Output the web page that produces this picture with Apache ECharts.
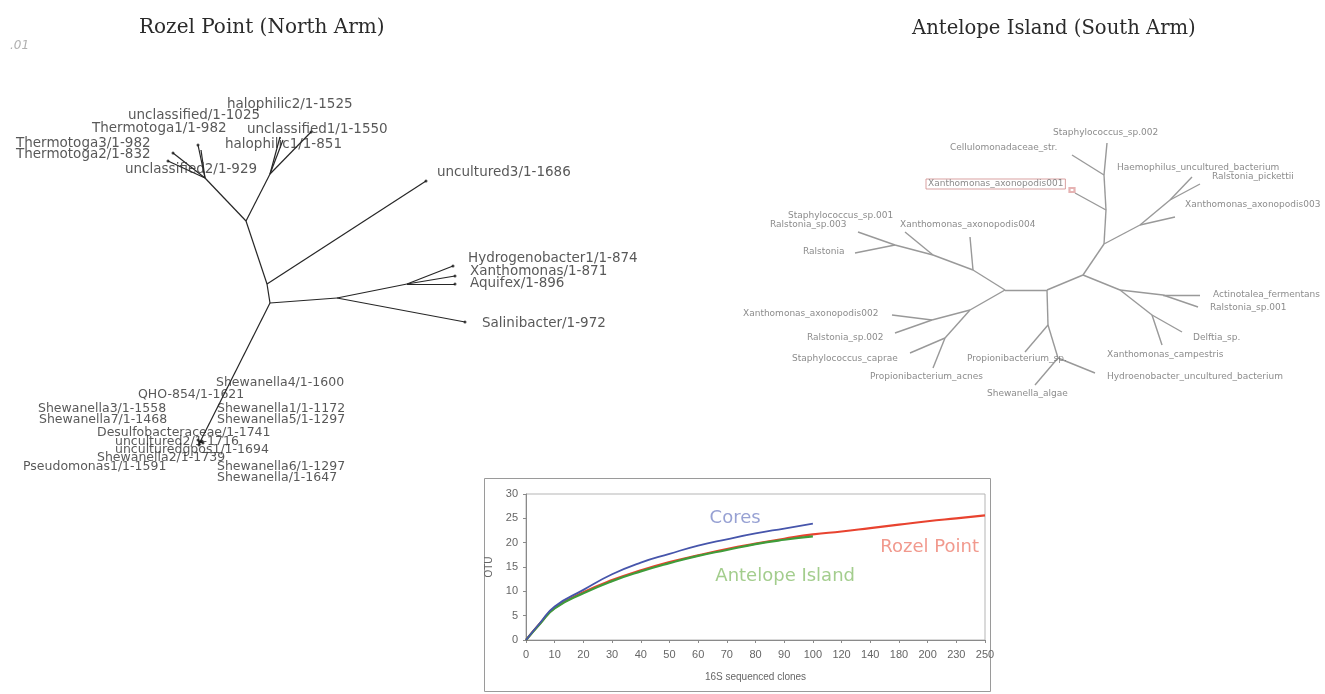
<!DOCTYPE html>
<html>
<head>
<meta charset="utf-8">
<script src="https://cdn.jsdelivr.net/npm/echarts@6/dist/echarts.min.js"></script>
<style>
  html, body { margin: 0; padding: 0; background: #fff; }
  #c { width: 1325px; height: 694px; }
</style>
</head>
<body>
<div id="c"></div>
<script>
// ---------- Rozel Point (North Arm) tree: node layout relative to the root ----------
const northNodes = {
  root: [0, 0], b: [-3, -19], a: [-24, -82], t: [-65, -125],
  t1: [-97, -150], t2: [-102, -142], t3: [-72, -158], t4: [-69, -153],
  h: [0, -129], h1: [10, -166], h2: [41, -171], h3: [13, -163],
  u3: [156, -122], d: [67, -5], e: [137, -19],
  hy: [183, -37], xa: [185, -27], aq: [185, -19], sa: [195, 19],
  s: [-70, 139], s1: [-72, 137], s2: [-67, 140], s3: [-71, 142], s4: [-68, 138]
};
const northEdges = [
  ['root', 'b'], ['b', 'a'], ['a', 't'], ['t', 't1'], ['t', 't2'], ['t', 't3'], ['t', 't4'],
  ['a', 'h'], ['h', 'h1'], ['h', 'h2'], ['h', 'h3'], ['b', 'u3'],
  ['root', 'd'], ['d', 'e'], ['e', 'hy'], ['e', 'xa'], ['e', 'aq'], ['d', 'sa'],
  ['root', 's'], ['s', 's1'], ['s', 's2'], ['s', 's3'], ['s', 's4']
];
const northTips = ['t1', 't2', 't3', 'h2', 'u3', 'hy', 'xa', 'aq', 'sa', 's', 's1', 's2', 's3', 's4'];
const northUpperLabels = [
  ['halophilic2/1-1525', -43, -199],
  ['unclassified/1-1025', -142, -188],
  ['Thermotoga1/1-982', -178, -175],
  ['unclassified1/1-1550', -23, -174],
  ['Thermotoga3/1-982', -254, -160],
  ['halophilic1/1-851', -45, -159],
  ['Thermotoga2/1-832', -254, -149],
  ['unclassified2/1-929', -145, -134],
  ['uncultured3/1-1686', 167, -131],
  ['Hydrogenobacter1/1-874', 198, -45],
  ['Xanthomonas/1-871', 200, -32],
  ['Aquifex/1-896', 200, -20],
  ['Salinibacter/1-972', 212, 20]
];
const northLowerLabels = [
  ['Shewanella4/1-1600', -54, 80],
  ['QHO-854/1-1621', -132, 92],
  ['Shewanella3/1-1558', -232, 106],
  ['Shewanella1/1-1172', -53, 106],
  ['Shewanella7/1-1468', -231, 117],
  ['Shewanella5/1-1297', -53, 117],
  ['Desulfobacteraceae/1-1741', -173, 130],
  ['uncultured2/1-1716', -155, 139],
  ['unculturedgpos1/1-1694', -155, 147],
  ['Shewanella2/1-1739', -173, 155],
  ['Pseudomonas1/1-1591', -247, 164],
  ['Shewanella6/1-1297', -53, 164],
  ['Shewanella/1-1647', -53, 175]
];

// ---------- Antelope Island (South Arm) tree ----------
const southNodes = {
  root: [0, 0], n2: [36, -15], n1: [57, -46], nx1: [59, -80], ncel: [57, -115], top: [60, -147],
  cel: [25, -135], x001: [28, -97],
  nh: [93, -65], nh2: [123, -90], haem: [145, -113], rpick: [153, -106], x003: [128, -73],
  na: [73, 0], nb: [116, 5], act: [153, 5], r001: [151, 17], nc: [105, 25], delf: [135, 42], xcamp: [115, 55],
  np: [1, 35], prop: [-22, 62], nq: [11, 68], hydro: [48, 83], shew: [-12, 95],
  n4: [-42, 0], n5: [-74, -20], xa004: [-77, -53], n6: [-114, -35], st001: [-142, -58],
  n7: [-152, -45], r003: [-189, -58], ralst: [-192, -37],
  n8: [-77, 20], n9: [-115, 30], x002: [-155, 25], r002: [-152, 43],
  n10: [-102, 48], scap: [-137, 63], pacn: [-114, 78]
};
const southEdges = [
  ['root', 'n2'], ['n2', 'n1'], ['n1', 'nx1'], ['nx1', 'ncel'], ['ncel', 'top'], ['ncel', 'cel'], ['nx1', 'x001'],
  ['n1', 'nh'], ['nh', 'nh2'], ['nh2', 'haem'], ['nh2', 'rpick'], ['nh', 'x003'],
  ['n2', 'na'], ['na', 'nb'], ['nb', 'act'], ['nb', 'r001'], ['na', 'nc'], ['nc', 'delf'], ['nc', 'xcamp'],
  ['root', 'np'], ['np', 'prop'], ['np', 'nq'], ['nq', 'hydro'], ['nq', 'shew'],
  ['root', 'n4'], ['n4', 'n5'], ['n5', 'xa004'], ['n5', 'n6'], ['n6', 'st001'], ['n6', 'n7'], ['n7', 'r003'], ['n7', 'ralst'],
  ['n4', 'n8'], ['n8', 'n9'], ['n9', 'x002'], ['n9', 'r002'], ['n8', 'n10'], ['n10', 'scap'], ['n10', 'pacn']
];
const southLabels = [
  ['Staphylococcus_sp.002', 6, -157],
  ['Cellulomonadaceae_str.', -97, -142],
  ['Xanthomonas_axonopodis001', -121, -106],
  ['Haemophilus_uncultured_bacterium', 70, -122],
  ['Ralstonia_pickettii', 165, -113],
  ['Xanthomonas_axonopodis003', 138, -85],
  ['Staphylococcus_sp.001', -259, -74],
  ['Ralstonia_sp.003', -277, -65],
  ['Xanthomonas_axonopodis004', -147, -65],
  ['Ralstonia', -244, -38],
  ['Actinotalea_fermentans', 166, 5],
  ['Ralstonia_sp.001', 163, 18],
  ['Delftia_sp.', 146, 48],
  ['Xanthomonas_campestris', 60, 65],
  ['Hydroenobacter_uncultured_bacterium', 60, 87],
  ['Propionibacterium_sp.', -80, 69],
  ['Shewanella_algae', -60, 104],
  ['Propionibacterium_acnes', -177, 87],
  ['Staphylococcus_caprae', -255, 69],
  ['Ralstonia_sp.002', -240, 48],
  ['Xanthomonas_axonopodis002', -304, 24]
];
const highlightedTaxon = 'Xanthomonas_axonopodis001';
const highlightMark = [25, -100];

// ---------- OTU rarefaction curves ----------
const cloneTicks = ['0', '10', '20', '30', '40', '50', '60', '70', '80', '90', '100', '120', '140', '180', '200', '230', '250'];
const coresClones = [0, 5, 10, 20, 30, 40, 50, 60, 70, 80, 90, 100];
const coresOTU    = [0, 3.6, 6.9, 10.3, 13.5, 15.9, 17.7, 19.4, 20.7, 21.9, 22.9, 23.9];
const antelopeClones = [0, 5, 10, 20, 30, 40, 50, 60, 70, 80, 90, 100];
const antelopeOTU    = [0, 3.4, 6.5, 9.6, 12.1, 14.1, 15.8, 17.3, 18.5, 19.7, 20.6, 21.3];
const rozelClones = [0, 5, 10, 20, 30, 40, 50, 60, 70, 80, 90, 100, 120, 140, 180, 200, 230, 250];
const rozelOTU    = [0, 3.5, 6.6, 9.8, 12.3, 14.3, 16.0, 17.4, 18.7, 19.8, 20.8, 21.7, 22.3, 23.0, 23.7, 24.4, 25.0, 25.6];
const curveNames = ['Cores', 'Rozel Point', 'Antelope Island'];
const curveNameAnchors = [[6.4, 25.1], [12.35, 19.1], [6.6, 13.1]];

// clone count -> position along the evenly spaced category ticks
const tickClones = cloneTicks.map(Number);
function clonePos(c) {
  for (let i = 1; i < tickClones.length; i++) {
    if (c <= tickClones[i]) return i - 1 + (c - tickClones[i - 1]) / (tickClones[i] - tickClones[i - 1]);
  }
  return tickClones.length - 1;
}
const toCurve = (xs, ys) => xs.map((c, i) => [clonePos(c), ys[i]]);

function edgeData(nodes, edges) {
  return edges.map(([p, q]) => ({ coords: [nodes[p], nodes[q]] }));
}
function labelData(list) {
  return list.map(([t, x, y]) => ({ name: t, value: [x, y] }));
}

const treeLabelFont = { fontFamily: 'DejaVu Sans', color: '#2e2e2e' };
const titleFont = { fontFamily: 'DejaVu Serif', fontWeight: 'normal', color: '#2a2a2a' };

const option = {
  animation: false,
  backgroundColor: '#fff',
  title: [
    { text: 'Rozel Point (North Arm)', left: 134, top: 13, textStyle: { ...titleFont, fontSize: 20 } },
    { text: 'Antelope Island (South Arm)', left: 907, top: 14, textStyle: { ...titleFont, fontSize: 19.6 } }
  ],
  graphic: [
    { type: 'text', left: 10, top: 40,
      style: { text: '.01', font: 'italic 12px "DejaVu Sans"', fill: '#b0b0b0' } },
    { type: 'rect', shape: { x: 484.5, y: 478.5, width: 506, height: 213 },
      style: { fill: 'none', stroke: '#9a9a9a', lineWidth: 1 }, z: 0 }
  ],
  grid: [
    { left: 0, top: 90, width: 660, height: 400 },
    { left: 740, top: 110, width: 585, height: 300 },
    { left: 526, top: 494, width: 459, height: 146, show: true, borderColor: '#b5b5b5', borderWidth: 1 }
  ],
  xAxis: [
    { gridIndex: 0, type: 'value', min: -270, max: 390, show: false },
    { gridIndex: 1, type: 'value', min: -307, max: 278, show: false },
    { gridIndex: 2, type: 'value', min: 0, max: 16, interval: 1,
      name: '16S sequenced clones', nameLocation: 'middle', nameGap: 32,
      nameTextStyle: { fontFamily: 'Liberation Sans', fontSize: 10, color: '#666' },
      axisLine: { lineStyle: { color: '#8a8a8a' } },
      axisTick: { show: true, length: 3, lineStyle: { color: '#8a8a8a' } },
      splitLine: { show: false },
      axisLabel: { formatter: v => cloneTicks[v], fontFamily: 'Liberation Sans', fontSize: 11, color: '#666', margin: 9 } }
  ],
  yAxis: [
    { gridIndex: 0, type: 'value', min: -213, max: 187, inverse: true, show: false },
    { gridIndex: 1, type: 'value', min: -180, max: 120, inverse: true, show: false },
    { gridIndex: 2, type: 'value', min: 0, max: 30, interval: 5,
      name: 'OTU', nameLocation: 'middle', nameGap: 32, nameRotate: 90,
      nameTextStyle: { fontFamily: 'Liberation Sans', fontSize: 10, color: '#666' },
      axisLine: { show: true, lineStyle: { color: '#8a8a8a' } },
      axisTick: { show: true, length: 3, lineStyle: { color: '#8a8a8a' } },
      splitLine: { show: false },
      axisLabel: { fontFamily: 'Liberation Sans', fontSize: 11, color: '#666', margin: 8 } }
  ],
  series: [
    // North tree branches, tip dots and leaf labels
    { type: 'lines', coordinateSystem: 'cartesian2d', xAxisIndex: 0, yAxisIndex: 0,
      data: edgeData(northNodes, northEdges),
      lineStyle: { color: '#262626', width: 1.2, opacity: 1 } },
    { type: 'scatter', xAxisIndex: 0, yAxisIndex: 0, symbolSize: 3,
      itemStyle: { color: '#1a1a1a' },
      data: northTips.map(k => northNodes[k]) },
    { type: 'scatter', xAxisIndex: 0, yAxisIndex: 0, symbolSize: 0,
      data: labelData(northUpperLabels),
      label: { show: true, position: 'right', distance: 0, formatter: '{b}', fontSize: 13.5, ...treeLabelFont } },
    { type: 'scatter', xAxisIndex: 0, yAxisIndex: 0, symbolSize: 0,
      data: labelData(northLowerLabels),
      label: { show: true, position: 'right', distance: 0, formatter: '{b}', fontSize: 12.5, ...treeLabelFont } },

    // South tree branches and leaf labels
    { type: 'lines', coordinateSystem: 'cartesian2d', xAxisIndex: 1, yAxisIndex: 1,
      data: edgeData(southNodes, southEdges),
      lineStyle: { color: '#999', width: 1.4, opacity: 1 } },
    { type: 'scatter', xAxisIndex: 1, yAxisIndex: 1, symbolSize: 0,
      data: southLabels.map(([t, x, y]) => {
        const item = { name: t, value: [x, y] };
        if (t === highlightedTaxon) {
          item.label = { borderColor: '#cf8a8a', borderWidth: 1, padding: [1, 2, 0, 2] };
        }
        return item;
      }),
      label: { show: true, position: 'right', distance: 0, formatter: '{b}',
        fontFamily: 'DejaVu Sans', fontSize: 9, color: '#6e6e6e' } },
    { type: 'scatter', xAxisIndex: 1, yAxisIndex: 1, symbol: 'emptyRect', symbolSize: [5, 4],
      itemStyle: { color: '#e0a0a0', borderColor: '#d88', borderWidth: 1 },
      data: [highlightMark] },

    // Rarefaction curves
    { name: 'Rozel Point', type: 'line', xAxisIndex: 2, yAxisIndex: 2, smooth: true, symbol: 'none',
      lineStyle: { color: '#e8432f', width: 2.2 }, data: toCurve(rozelClones, rozelOTU) },
    { name: 'Antelope Island', type: 'line', xAxisIndex: 2, yAxisIndex: 2, smooth: true, symbol: 'none',
      lineStyle: { color: '#3f9c3a', width: 2.2 }, data: toCurve(antelopeClones, antelopeOTU) },
    { name: 'Cores', type: 'line', xAxisIndex: 2, yAxisIndex: 2, smooth: true, symbol: 'none',
      lineStyle: { color: '#4655ab', width: 1.8 }, data: toCurve(coresClones, coresOTU) },
    { type: 'scatter', xAxisIndex: 2, yAxisIndex: 2, symbolSize: 0,
      data: curveNames.map((n, i) => ({ name: n, value: curveNameAnchors[i],
        label: { color: ['#7d89c8', '#ee7f70', '#8cc070'][i] } })),
      label: { show: true, position: 'right', distance: 0, formatter: '{b}',
        fontFamily: 'DejaVu Sans', fontSize: 18 } }
  ]
};

const chart = echarts.init(document.getElementById('c'), null, { renderer: 'canvas' });
chart.setOption(option);
</script>
</body>
</html>
